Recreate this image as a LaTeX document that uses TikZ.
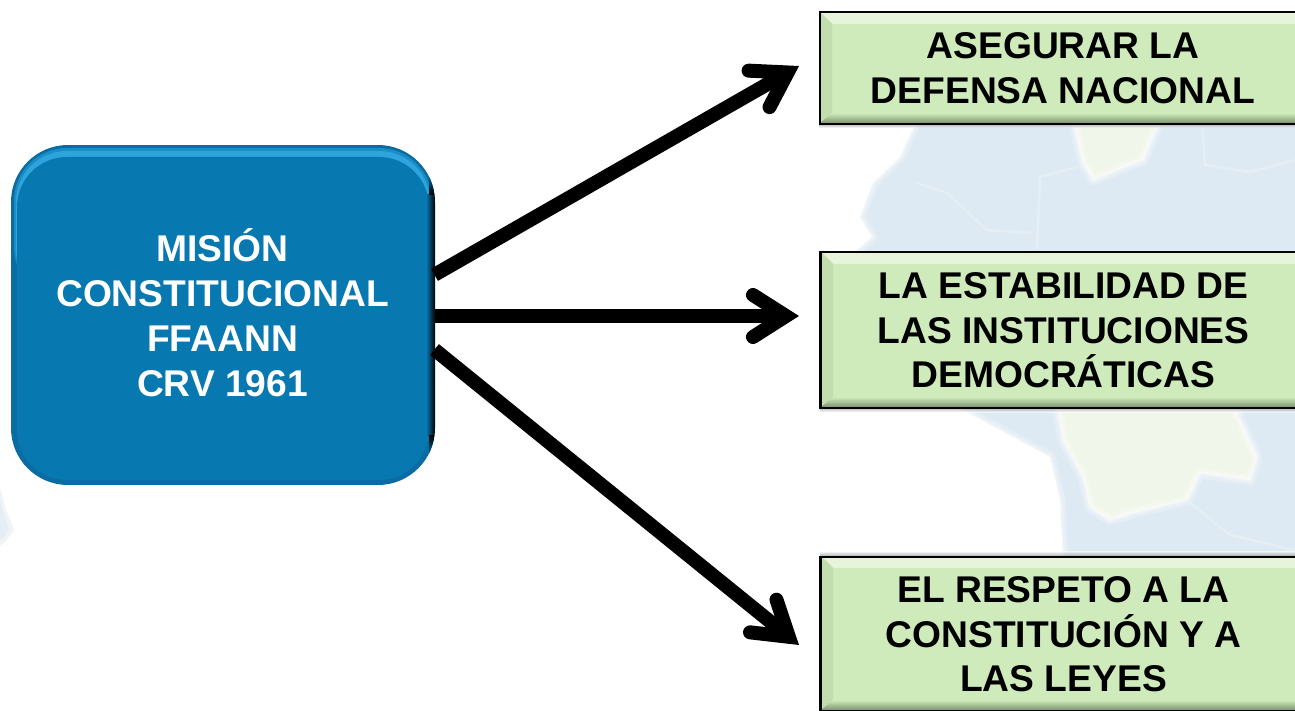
\documentclass[tikz,border=0pt]{standalone}
\usepackage{fontspec}
\setmainfont{Liberation Sans}
\usetikzlibrary{arrows.meta}
\definecolor{mapblue}{HTML}{DEEAF3}
\definecolor{mapland}{HTML}{F1F6EA}
\definecolor{mapline}{HTML}{E8F1F6}
\definecolor{gface}{HTML}{CFEBBC}
\definecolor{gtop}{HTML}{E6F5D9}
\definecolor{gleft}{HTML}{C2DEAE}
\definecolor{gright}{HTML}{AFC99D}
\definecolor{gbottom}{HTML}{7F9570}
\definecolor{bface}{HTML}{0778B0}
\definecolor{bedge}{HTML}{0A6CA2}
\definecolor{bglow}{HTML}{2FA3DC}
\definecolor{bmid}{HTML}{1B8DC6}
\newcommand{\greenbevel}[4]{%
  \fill[gface] (#1,#2) rectangle (#3,#4);
  \fill[gtop] (#1,#2) -- (#3,#2) -- ({#3-9},{#2+12}) -- ({#1+12},{#2+12}) -- cycle;
  \fill[gleft] (#1,#2) -- ({#1+12},{#2+12}) -- ({#1+12},{#4-10}) -- (#1,#4) -- cycle;
  \fill[gright] (#3,#2) -- ({#3-9},{#2+12}) -- ({#3-9},{#4-10}) -- (#3,#4) -- cycle;
  \shade[top color=gface,bottom color=gbottom] (#1,#4) -- ({#1+12},{#4-10}) -- ({#3-9},{#4-10}) -- (#3,#4) -- cycle;
}
\newcommand{\ls}{\rule{0pt}{34pt}\rule[-8pt]{0pt}{8pt}}
\newcommand{\softedge}[1]{%
  \draw[white,opacity=.22,line width=11pt,line join=round] #1;
  \draw[white,opacity=.25,line width=6pt,line join=round] #1;
  \draw[white,opacity=.25,line width=2.5pt,line join=round] #1;
}
\tikzset{
  x=1pt,y=-1pt,
  basetext/.style={font=\fontsize{37.2pt}{44.7pt}\selectfont\bfseries,align=center,inner sep=0pt,outer sep=0pt},
  goalbox/.style={basetext,draw=black,line width=2.8pt,minimum width=486pt,text=black},
  missionbox/.style={basetext,minimum width=424pt,minimum height=340pt,rounded corners=57pt,text=white},
  connector/.style={line width=14pt,draw=black,-{Straight Barb[length=33pt,width=42pt,line width=14pt,line cap=round,line join=miter]}},
  maplinestyle/.style={mapline,line width=2.5pt,line join=round,opacity=.7},
}
\begin{document}
\begin{tikzpicture}
\clip (0,0) rectangle (1295,711);
\fill[white] (0,0) rectangle (1295,711);
% faint map behind the boxes
\fill[mapblue]
  (917,120) -- (900,157) -- (873,183) -- (860,217) -- (872,237) -- (857,250)
  -- (940,400) -- (963,410) -- (1000,430) -- (1050,457) -- (1060,500) -- (1063,560)
  -- (1300,560) -- (1300,120) -- cycle;
\softedge{(917,120) -- (900,157) -- (873,183) -- (860,217) -- (872,237) -- (857,250) -- (940,400) -- (963,410) -- (1000,430) -- (1050,457) -- (1060,500) -- (1063,560)}
\fill[mapland]
  (1073,120) -- (1160,120) -- (1143,160) -- (1117,170) -- (1093,180) -- (1083,163) -- cycle;
\softedge{(1073,120) -- (1083,163) -- (1093,180) -- (1117,170) -- (1143,160) -- (1160,120)}
\fill[mapland]
  (1057,405) -- (1233,405) -- (1257,457) -- (1250,480) -- (1200,473) -- (1187,500)
  -- (1133,513) -- (1110,520) -- (1090,507) -- (1083,477) -- (1063,440) -- cycle;
\softedge{(1233,405) -- (1257,457) -- (1250,480) -- (1200,473) -- (1187,500) -- (1133,513) -- (1110,520) -- (1090,507) -- (1083,477) -- (1063,440) -- (1057,405)}
\draw[maplinestyle] (1037,250) -- (1040,177) -- (1077,167);
\draw[maplinestyle] (917,183) -- (947,193) -- (987,230) -- (1033,233);
\draw[maplinestyle] (1202,125) -- (1205,165) -- (1250,172) -- (1295,160);
\draw[maplinestyle] (1187,500) -- (1230,535) -- (1295,550);
\fill[mapblue,opacity=.5] (0,488) -- (6,510) -- (14,530) -- (6,541) -- (0,546) -- cycle;
\fill[mapblue,opacity=.5] (0,500) -- (4,515) -- (9,530) -- (3,538) -- (0,540) -- cycle;
% soft shadows under the green boxes
\shade[top color=black!45,bottom color=white,opacity=.6] (819,124) rectangle (1295,128);
\shade[top color=black!45,bottom color=white,opacity=.6] (820,408) rectangle (1295,412);
\shade[top color=white,bottom color=black!40,opacity=.6] (820,551) rectangle (1295,555);
% bevels
\greenbevel{820}{12}{1306}{123}
\greenbevel{821}{252}{1306}{407}
\greenbevel{821}{556}{1306}{710}
% blue box layers
\begin{scope}
\clip[rounded corners=57pt] (11,145) rectangle (435,485);
\fill[bedge] (11,145) rectangle (435,485);
\fill[bmid,rounded corners=53pt] (14,148) rectangle (432,300);
\fill[bglow,rounded corners=51pt] (16,151) rectangle (430,300);
\fill[bface,rounded corners=50pt] (17,157) rectangle (429,480);
\shade[left color=bface,right color=black] (426,195) rectangle (435,435);
\shade[top color=bedge,bottom color=black] (429,175) rectangle (435,195);
\shade[top color=black,bottom color=bedge] (429,435) rectangle (435,455);
\end{scope}
% nodes
\node[missionbox] (mision) at (222.5,316) {\ls MISIÓN\\CONSTITUCIONAL\\FFAANN\\CRV 1961\ls};
\node[goalbox,minimum height=112pt] (defensa) at (1063,68) {\ls ASEGURAR LA\\DEFENSA NACIONAL\ls};
\node[goalbox,minimum height=156pt] (estabilidad) at (1063.5,330) {\ls LA ESTABILIDAD DE\\LAS INSTITUCIONES\\DEMOCRÁTICAS\ls};
\node[goalbox,minimum height=154pt] (respeto) at (1063.5,634) {\ls EL RESPETO A LA\\CONSTITUCIÓN Y A\\LAS LEYES\ls};
% connector ends
\coordinate (t1) at (799,66);
\coordinate (t2) at (799,316);
\coordinate (t3) at (799,645);
\draw[connector] (mision.11) -- (t1);
\draw[connector] (mision.east) -- (t2);
\draw[connector] (mision.-9.6) -- (t3);
\end{tikzpicture}
\end{document}
